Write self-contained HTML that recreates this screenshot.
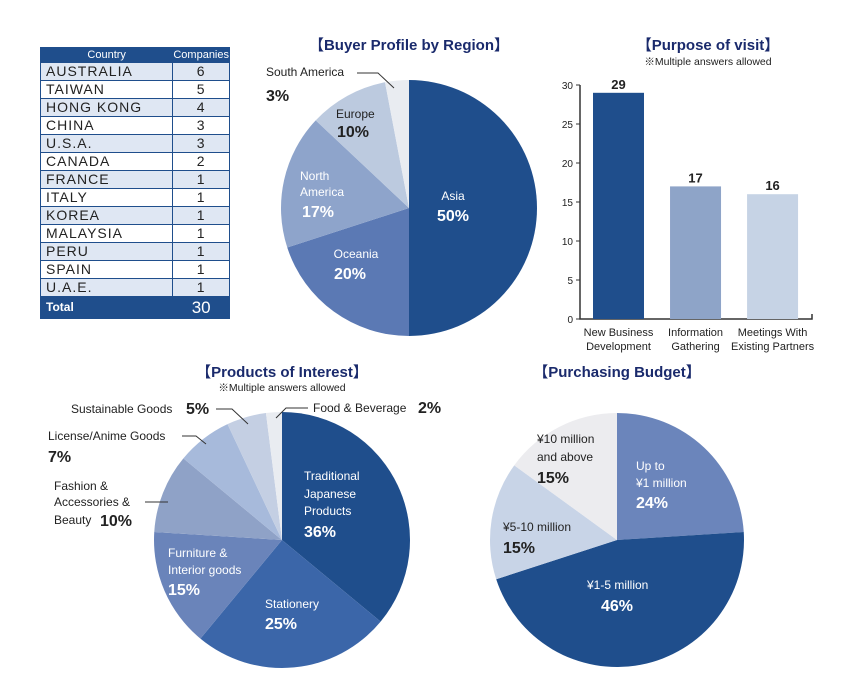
<!DOCTYPE html>
<html><head><meta charset="utf-8">
<style>
body{margin:0;background:#fff;font-family:"Liberation Sans","Noto Sans CJK JP",sans-serif;}
#wrap{position:relative;width:848px;height:695px;overflow:hidden;}
table{position:absolute;left:40px;top:47px;border-collapse:collapse;width:190px;font-size:14px;letter-spacing:1px;color:#222;}
td,th{border:1px solid #1f4e8c;padding:0 5px;height:17px;line-height:17px;}
th{background:#1f4e8c;color:#fff;font-weight:normal;font-size:11px;letter-spacing:0;height:14px;line-height:14px;}
td.n{text-align:center;width:55px;padding:0}
tr:nth-child(even) td{background:#dfe7f3}
tr.tot td{background:#1f4e8c;color:#fff;height:21px;}
svg{position:absolute;left:0;top:0}
</style></head><body>
<div id="wrap">
<table>
<tr><th>Country</th><th style="border-left:1px solid #fff;width:55px;padding:0">Companies</th></tr>
<tr><td>AUSTRALIA</td><td class="n">6</td></tr>
<tr><td>TAIWAN</td><td class="n">5</td></tr>
<tr><td>HONG KONG</td><td class="n">4</td></tr>
<tr><td>CHINA</td><td class="n">3</td></tr>
<tr><td>U.S.A.</td><td class="n">3</td></tr>
<tr><td>CANADA</td><td class="n">2</td></tr>
<tr><td>FRANCE</td><td class="n">1</td></tr>
<tr><td>ITALY</td><td class="n">1</td></tr>
<tr><td>KOREA</td><td class="n">1</td></tr>
<tr><td>MALAYSIA</td><td class="n">1</td></tr>
<tr><td>PERU</td><td class="n">1</td></tr>
<tr><td>SPAIN</td><td class="n">1</td></tr>
<tr><td>U.A.E.</td><td class="n">1</td></tr>
<tr class="tot"><td style="font-weight:bold;font-size:12px;letter-spacing:0">Total</td><td class="n" style="font-size:17px;letter-spacing:0;border-left:1px solid #fff">30</td></tr>
</table>
<svg id="svg" width="848" height="695"></svg>
</div>
<script>
const regionCats=["Asia","Oceania","North America","Europe","South America"];
const regionVals=[50,20,17,10,3];
const purposeCats=["New Business|Development","Information|Gathering","Meetings With|Existing Partners"];
const purposeVals=[29,17,16];
const purposeTicks=[0,5,10,15,20,25,30];
const productCats=["Traditional Japanese Products","Stationery","Furniture & Interior goods","Fashion & Accessories & Beauty","License/Anime Goods","Sustainable Goods","Food & Beverage"];
const productVals=[36,25,15,10,7,5,2];
const budgetCats=["Up to ¥1 million","¥1-5 million","¥5-10 million","¥10 million and above"];
const budgetVals=[24,46,15,15];

const NS="http://www.w3.org/2000/svg",svg=document.getElementById('svg');
function mk(t,a,p){const e=document.createElementNS(NS,t);for(const k in a)e.setAttribute(k,a[k]);(p||svg).appendChild(e);return e;}
function txt(x,y,s,o){o=o||{};const e=mk('text',{x:x,y:y,'font-size':o.fs||12,fill:o.fill||'#222','text-anchor':o.anchor||'start','font-weight':o.fw||'normal'});e.textContent=s;return e;}
function pie(cx,cy,r,vals,cols,names){let a=0;const tot=vals.reduce((s,v)=>s+v,0);
 vals.forEach((v,i)=>{const a0=a,a1=a+v/tot*2*Math.PI;a=a1;
  const x0=cx+r*Math.sin(a0),y0=cy-r*Math.cos(a0),x1=cx+r*Math.sin(a1),y1=cy-r*Math.cos(a1);
  const p=mk('path',{d:`M${cx},${cy}L${x0},${y0}A${r},${r} 0 ${a1-a0>Math.PI?1:0} 1 ${x1},${y1}Z`,fill:cols[i]});
  
  });}
const slug=s=>s.toLowerCase().replace(/[^a-z0-9]+/g,'-');
txt(409,50,"【Buyer Profile by Region】",{fs:15,fw:'bold',fill:'#1a2a6c',anchor:'middle',name:'region-title'});
txt(708,50,"【Purpose of visit】",{fs:15,fw:'bold',fill:'#1a2a6c',anchor:'middle',name:'purpose-title'});
txt(708,65,"※Multiple answers allowed",{fs:10.5,anchor:'middle',name:'purpose-note'});
txt(282,377,"【Products of Interest】",{fs:15,fw:'bold',fill:'#1a2a6c',anchor:'middle',name:'products-title'});
txt(282,391,"※Multiple answers allowed",{fs:10.5,anchor:'middle',name:'products-note'});
txt(617,377,"【Purchasing Budget】",{fs:15,fw:'bold',fill:'#1a2a6c',anchor:'middle',name:'budget-title'});
pie(409,208,128,regionVals,["#1f4e8c","#5b79b4","#8ea4cb","#bccadf","#e9ecf1"],regionCats.map(slug));
const W='#fff';
txt(453,200,"Asia",{fill:W,anchor:'middle'});txt(453,221,regionVals[0]+"%",{fs:16,fw:'bold',fill:W,anchor:'middle'});
txt(356,258,"Oceania",{fill:W,anchor:'middle'});txt(350,279,regionVals[1]+"%",{fs:16,fw:'bold',fill:W,anchor:'middle'});
txt(300,180,"North",{fill:W});txt(300,196,"America",{fill:W});txt(302,217,regionVals[2]+"%",{fs:16,fw:'bold',fill:W});
txt(336,118,"Europe");txt(337,137,regionVals[3]+"%",{fs:16,fw:'bold'});
txt(266,76,"South America");txt(266,101,regionVals[4]+"%",{fs:16,fw:'bold'});
mk('path',{d:"M357,73H378L394,88",stroke:'#333',fill:'none'});
const bx0=580,bx1=812,by0=319,by1=85,ymax=30;
const ys=v=>by0-(by0-by1)*v/ymax;
mk('path',{d:`M${bx0},${by1}V${by0}H${bx1}V${by0-5}`,stroke:'#333',fill:'none','stroke-width':1.5});
purposeTicks.forEach(t=>{mk('line',{x1:bx0-4,x2:bx0,y1:ys(t),y2:ys(t),stroke:'#333'});txt(bx0-7,ys(t)+4,t,{fs:10,anchor:'end',name:'y-tick'});});
const bcols=["#1f4e8c","#8ea4c8","#c6d3e5"];const bw=(bx1-bx0)/purposeVals.length;
purposeVals.forEach((v,i)=>{const x=bx0+13+i*bw-i*0.3;const r=mk('rect',{x:x,y:ys(v),width:51,height:by0-ys(v),fill:bcols[i]});
 
 
 txt(x+25.5,ys(v)-4,v,{fs:13,fw:'bold',anchor:'middle',name:'bar-value'});
 const l=purposeCats[i].split('|');txt(x+25.5,336,l[0],{fs:11,anchor:'middle',name:'x-label'});txt(x+25.5,350,l[1],{fs:11,anchor:'middle',name:'x-label'});});
pie(282,540,128,productVals,["#1f4e8c","#3b66a9","#6a84ba","#8fa2c7","#a7badb","#c4cfe3","#e9ecf1"],productCats.map(slug));
txt(304,480,"Traditional",{fill:W});txt(304,498,"Japanese",{fill:W});txt(304,515,"Products",{fill:W});txt(304,537,productVals[0]+"%",{fs:16,fw:'bold',fill:W});
txt(265,608,"Stationery",{fill:W});txt(265,629,productVals[1]+"%",{fs:16,fw:'bold',fill:W});
txt(168,557,"Furniture &",{fill:W});txt(168,574,"Interior goods",{fill:W});txt(168,595,productVals[2]+"%",{fs:16,fw:'bold',fill:W});
txt(54,490,"Fashion &");txt(54,506,"Accessories &");txt(54,524,"Beauty");txt(100,526,productVals[3]+"%",{fs:16,fw:'bold'});
mk('path',{d:"M145,502H168",stroke:'#333'});
txt(48,440,"License/Anime Goods");txt(48,462,productVals[4]+"%",{fs:16,fw:'bold'});
mk('path',{d:"M182,436H196L206,444",stroke:'#333',fill:'none'});
txt(71,413,"Sustainable Goods");txt(186,414,productVals[5]+"%",{fs:16,fw:'bold'});
mk('path',{d:"M216,409H232L248,424",stroke:'#333',fill:'none'});
txt(313,412,"Food & Beverage");txt(418,413,productVals[6]+"%",{fs:16,fw:'bold'});
mk('path',{d:"M308,408H286L276,418",stroke:'#333',fill:'none'});
pie(617,540,127,budgetVals,["#6b85bb","#1f4e8c","#c8d4e7","#ececef"],budgetCats.map(slug));
txt(636,470,"Up to",{fill:W});txt(636,487,"¥1 million",{fill:W});txt(636,508,budgetVals[0]+"%",{fs:16,fw:'bold',fill:W});
txt(587,589,"¥1-5 million",{fill:W});txt(601,611,budgetVals[1]+"%",{fs:16,fw:'bold',fill:W});
txt(503,531,"¥5-10 million");txt(503,553,budgetVals[2]+"%",{fs:16,fw:'bold'});
txt(537,443,"¥10 million");txt(537,461,"and above");txt(537,483,budgetVals[3]+"%",{fs:16,fw:'bold'});
</script>
</body></html>
